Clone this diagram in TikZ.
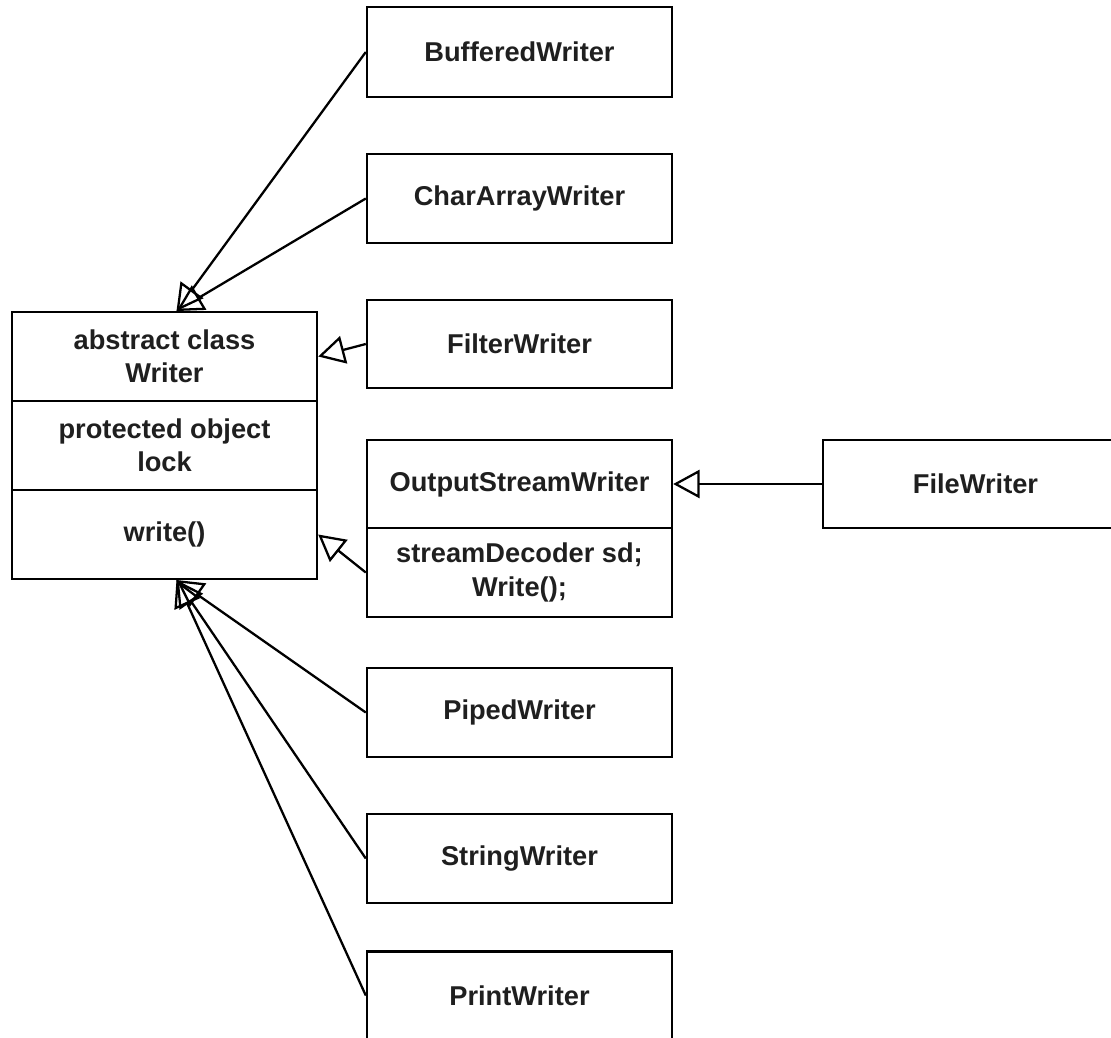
\documentclass[tikz,border=0pt]{standalone}
\usepackage{fontspec}
\setmainfont{Liberation Sans}
\usetikzlibrary{arrows.meta}
\begin{document}
\begin{tikzpicture}[x=0.02cm,y=-0.02cm,
  box/.style={draw, line width=1.4pt, minimum width=6.1cm, minimum height=1.77cm,
    inner sep=0pt, align=center, font=\fontsize{15.5}{19}\selectfont\bfseries, text=black!88},
  inherit/.style={draw, line width=1.3pt, -{Triangle[open,length=15pt,width=16pt]}}]
\path[use as bounding box] (0,0) rectangle (1111,1037);
\clip (0,0) rectangle (1111,1037);

% abstract base class, three compartments
\node[box] (wa) at (164.5,356.5) {abstract class\\Writer};
\node[box] (wb) at (164.5,445.5) {protected object\\lock};
\node[box] (wc) at (164.5,534.5) {write()};

% subclasses
\node[box, minimum height=1.8cm] (bw) at (519.5,52) {BufferedWriter};
\node[box] (caw) at (519.5,198.5) {CharArrayWriter};
\node[box] (fw) at (519.5,344) {FilterWriter};
\node[box] (osw) at (519.5,484) {OutputStreamWriter};
\node[box] (oswb) at (519.5,572.5) {streamDecoder sd;\\Write();};
\node[box] (file) at (975.5,484) {FileWriter};
\node[box] (pw) at (519.5,712.5) {PipedWriter};
\node[box] (sw) at (519.5,858.5) {StringWriter};
\node[box] (prw) at (519.5,995.5) {PrintWriter};

% generalisation arrows
\coordinate (top) at ([xshift=0.24cm]wa.north);
\coordinate (bot) at ([xshift=0.24cm]wc.south);
\draw[inherit] (bw.west) -- (top);
\draw[inherit] (caw.west) -- (top);
\draw[inherit] (fw.west) -- (wa.east);
\draw[inherit] (oswb.west) -- (wc.east);
\draw[inherit] (file.west) -- (osw.east);
\draw[inherit] (pw.west) -- (bot);
\draw[inherit] (sw.west) -- (bot);
\draw[inherit] (prw.west) -- (bot);
\end{tikzpicture}
\end{document}
